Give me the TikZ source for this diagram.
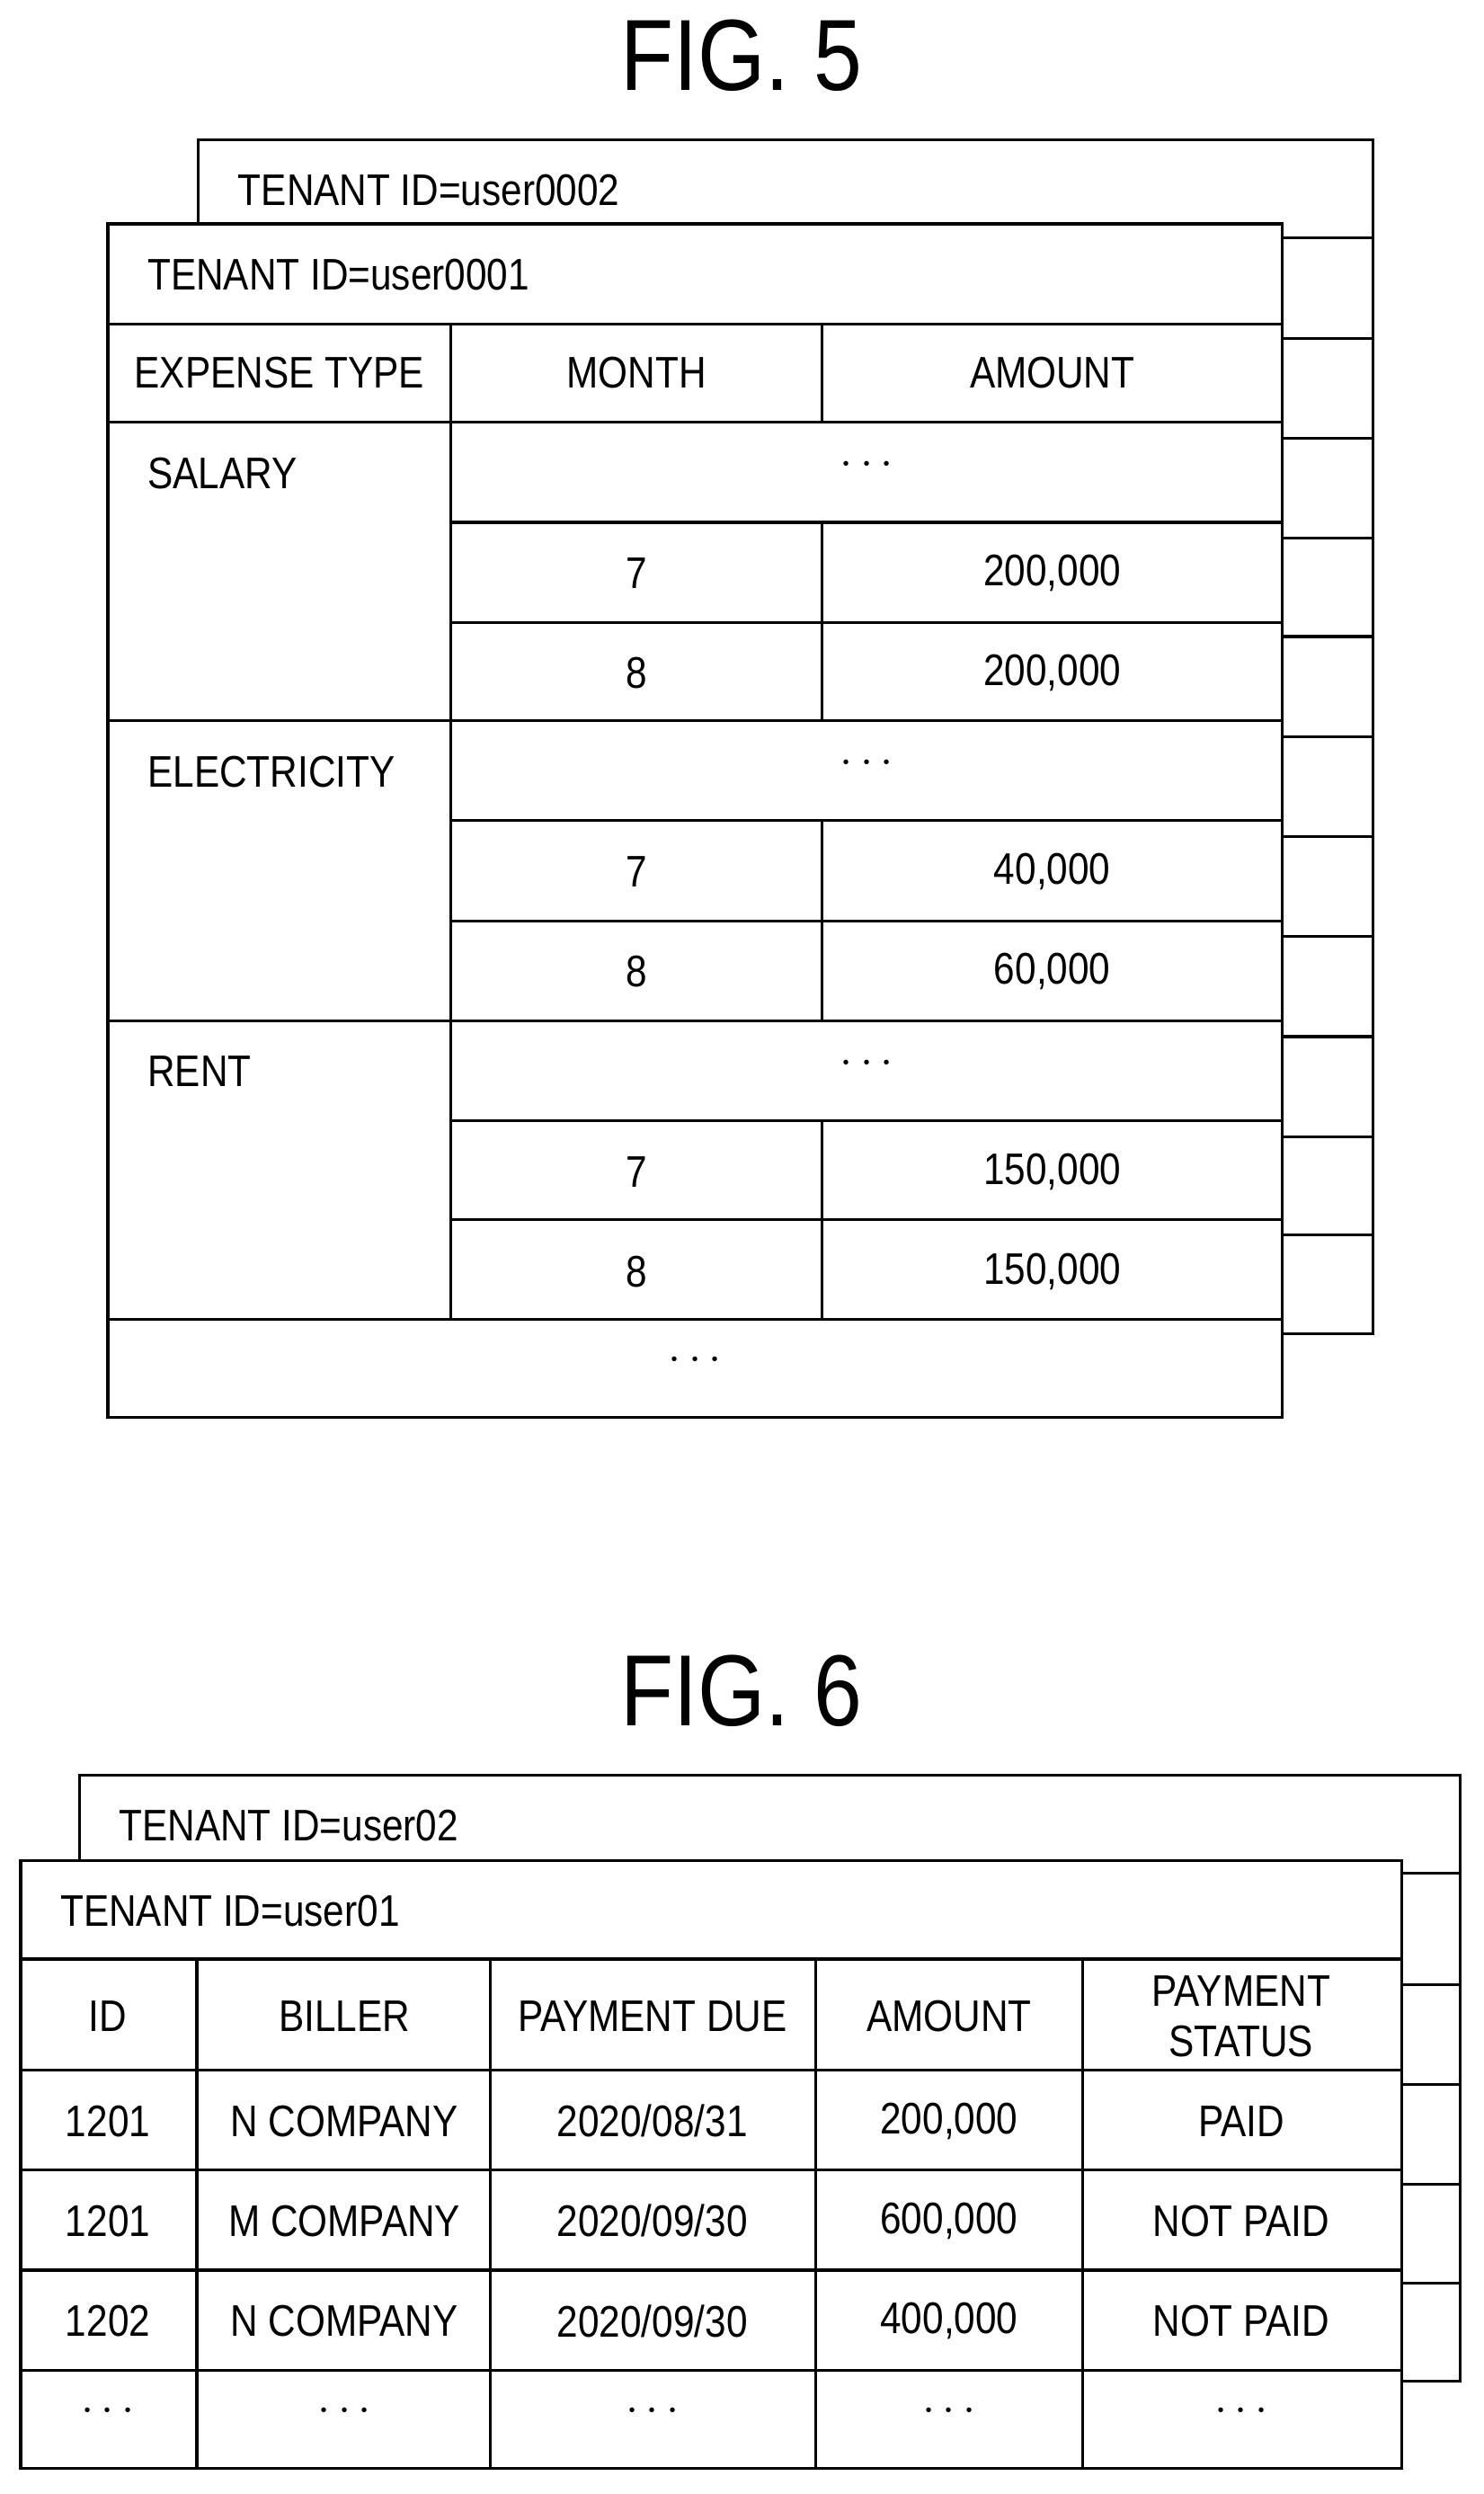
\documentclass[tikz,border=0pt]{standalone}
\usepackage{fontspec}
\setmainfont[FakeStretch=0.86]{Liberation Sans}
\newcommand{\dotsrow}{\Large$\cdots$}
\begin{document}
\begin{tikzpicture}[x=0.01766cm,y=-0.01766cm,
    sheet/.style={draw,line width=0.9pt,fill=white},
    grid/.style={line width=0.9pt},
    cell/.style={font=\fontsize{14}{16}\selectfont},
    fig/.style={font=\fontsize{32}{36}\selectfont}]
    \useasboundingbox (0,0) rectangle (935,1571);

    % FIG. 5
    \node[fig] at (467,35) (fig5) {FIG. 5};
    \draw[sheet] (125,88) rectangle (865,840);
    \foreach \y in {150,213,276,339,401,464,527,590,653,716,778}
        \draw[grid] (125,\y) -- (865,\y);
    \node[cell,anchor=west] at (143,120) (t5b) {TENANT ID=user0002};
    \draw[sheet] (68,141) rectangle (808,893);
    \foreach \y in {204,266,831}
        \draw[grid] (68,\y) -- (808,\y);
    \foreach \y in {329,392,517,580,706,768}
        \draw[grid] (284,\y) -- (808,\y);
    \foreach \y in {454,643}
        \draw[grid] (68,\y) -- (808,\y);
    \draw[grid] (284,204) -- (284,831);
    \foreach \y/\z in {204/266,329/454,517/643,706/831}
        \draw[grid] (518,\y) -- (518,\z);
    \node[cell,anchor=west] at (86,173) (t5a) {TENANT ID=user0001};
    \node[cell] at (176,235) (h1) {EXPENSE TYPE};
    \node[cell] at (401,235) (h2) {MONTH};
    \node[cell] at (663,235) (h3) {AMOUNT};
    \foreach \name/\y/\a/\b in {SALARY/266/{200,000}/{200,000},
        ELECTRICITY/454/{40,000}/{60,000}, RENT/643/{150,000}/{150,000}}{
        \node[cell,anchor=west] at (86,\y+32) {\name};
        \node at (546,\y+27) {\dotsrow};
        \node[cell] at (401,\y+95) {7};
        \node[cell] at (663,\y+95) {\a};
        \node[cell] at (401,\y+158) {8};
        \node[cell] at (663,\y+158) {\b};
    }
    \node at (438,857) (end5) {\dotsrow};

    % FIG. 6
    \node[fig] at (467,1065) (fig6) {FIG. 6};
    \draw[sheet] (50,1118) rectangle (920,1500);
    \foreach \y in {1180,1250,1313,1376,1438}
        \draw[grid] (50,\y) -- (920,\y);
    \node[cell,anchor=west] at (68,1150) (t6b) {TENANT ID=user02};
    \draw[sheet] (13,1172) rectangle (883,1555);
    \foreach \y in {1234,1304,1367,1430,1493}
        \draw[grid] (13,\y) -- (883,\y);
    \foreach \x in {124,309,514,682}
        \draw[grid] (\x,1234) -- (\x,1555);
    \node[cell,anchor=west] at (31,1204) (t6a) {TENANT ID=user01};
    \node[cell] at (68,1270) {ID};
    \node[cell] at (217,1270) {BILLER};
    \node[cell] at (411,1270) {PAYMENT DUE};
    \node[cell] at (598,1270) {AMOUNT};
    \node[cell,align=center] at (782,1270) {PAYMENT\\STATUS};
    \foreach \y/\i/\b/\d/\a/\s in {1336/1201/N COMPANY/2020\slash 08\slash 31/{200,000}/PAID,
        1399/1201/M COMPANY/2020\slash 09\slash 30/{600,000}/NOT PAID,
        1462/1202/N COMPANY/2020\slash 09\slash 30/{400,000}/NOT PAID}{
        \node[cell] at (68,\y) {\i};
        \node[cell] at (217,\y) {\b};
        \node[cell] at (411,\y) {\d};
        \node[cell] at (598,\y) {\a};
        \node[cell] at (782,\y) {\s};
    }
    \foreach \x in {68,217,411,598,782}
        \node at (\x,1519) {\dotsrow};
\end{tikzpicture}
\end{document}
